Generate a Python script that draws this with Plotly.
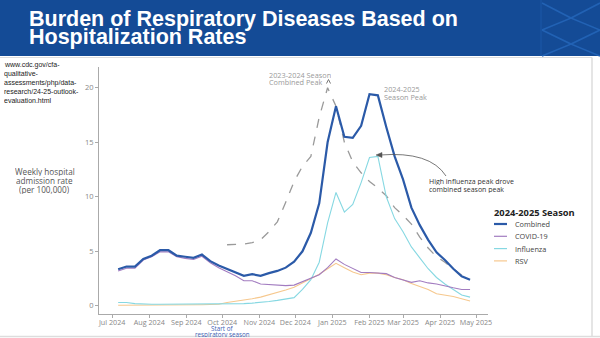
import plotly.graph_objects as go

# ---------------- data ----------------
weeks = ["2024-07-06","2024-07-13","2024-07-20","2024-07-27","2024-08-03","2024-08-10","2024-08-17",
         "2024-08-24","2024-08-31","2024-09-07","2024-09-14","2024-09-21","2024-09-28","2024-10-05",
         "2024-10-12","2024-10-19","2024-10-26","2024-11-02","2024-11-09","2024-11-16","2024-11-23",
         "2024-11-30","2024-12-07","2024-12-14","2024-12-21","2024-12-28","2025-01-04","2025-01-11",
         "2025-01-18","2025-01-25","2025-02-01","2025-02-08","2025-02-15","2025-02-22","2025-03-01",
         "2025-03-08","2025-03-15","2025-03-22","2025-03-29","2025-04-05","2025-04-12","2025-04-19",
         "2025-04-26"]
combined = [3.35, 3.6, 3.6, 4.3, 4.6, 5.1, 5.1, 4.6, 4.5, 4.4, 4.7, 4.1, 3.7, 3.4, 3.05, 2.75, 2.9,
            2.75, 3.0, 3.2, 3.5, 4.05, 5.0, 6.7, 9.4, 15.0, 18.3, 15.5, 15.4, 16.5, 19.4, 19.3, 16.4,
            13.7, 11.6, 9.0, 7.4, 6.05, 4.9, 4.2, 3.4, 2.7, 2.4]
covid = [3.2, 3.45, 3.45, 4.2, 4.5, 4.95, 4.95, 4.5, 4.35, 4.25, 4.55, 3.95, 3.5, 3.15, 2.75, 2.3,
         2.3, 2.0, 1.95, 1.85, 1.85, 1.9, 2.2, 2.5, 2.85, 3.5, 4.3, 3.8, 3.4, 3.05, 3.05, 3.0, 2.95,
         2.6, 2.4, 2.15, 2.3, 2.1, 2.0, 1.8, 1.65, 1.5, 1.5]
influenza = [0.3, 0.3, 0.2, 0.15, 0.15, 0.15, 0.15, 0.15, 0.15, 0.15, 0.15, 0.15, 0.15, 0.15, 0.2,
             0.2, 0.25, 0.3, 0.4, 0.5, 0.6, 0.75, 1.5, 2.4, 4.0, 7.6, 10.4, 8.6, 9.3, 11.3, 13.6,
             13.7, 10.0, 8.0, 6.8, 5.4, 4.4, 3.4, 2.6, 2.0, 1.5, 1.0, 0.8]
rsv = [0.05, 0.05, 0.05, 0.05, 0.05, 0.05, 0.08, 0.08, 0.08, 0.1, 0.1, 0.12, 0.15, 0.3, 0.4, 0.55,
       0.65, 0.8, 1.0, 1.2, 1.45, 1.7, 2.1, 2.5, 2.9, 3.4, 3.9, 3.5, 3.1, 2.85, 3.0, 3.0, 2.85, 2.6,
       2.4, 2.05, 1.8, 1.5, 1.1, 1.0, 0.85, 0.65, 0.45]
prev_combined = [None] * 13 + [5.6, 5.6, 5.65, 5.8, 6.05, 6.8, 7.7, 9.5, 11.4, 12.8, 13.7, 17.3, 20.0,
                               18.3, 15.0, 13.2, 12.2, 11.4, 10.8, 10.1, 9.0, 8.3, 7.5, 6.3, 5.3, 4.5,
                               4.0, 3.4, 2.8, 2.4]
tick_dates = ["2024-07-01","2024-08-01","2024-09-01","2024-10-01","2024-11-01","2024-12-01",
              "2025-01-01","2025-02-01","2025-03-01","2025-04-01","2025-05-01"]
tick_labels = ["Jul 2024","Aug 2024","Sep 2024","Oct 2024","Nov 2024","Dec 2024",
               "Jan 2025","Feb 2025","Mar 2025","Apr 2025","May 2025"]
y_ticks = [0, 5, 10, 15, 20]
series_names = ["Combined", "COVID-19", "Influenza", "RSV"]
series_colors = ["#2b5aa8", "#a27cc0", "#86d8e2", "#f6c88e"]
series_widths = [2.2, 1.1, 1.1, 1.1]

# ---------------- layout helpers ----------------
W, H = 600, 338
L, R, T, B = 99, 488, 67, 314
FONT = "Open Sans"


def px(x):
    return (x - L) / (R - L)


def py(y):
    return (B - y) / (B - T)


fig = go.Figure()

fig.add_trace(go.Scatter(x=weeks, y=prev_combined, mode="lines", name="2023-2024 Combined",
                         line=dict(color="#9a9a9a", width=1.3, dash="dash"), showlegend=False,
                         connectgaps=False))
series_values = [combined, covid, influenza, rsv]
for i in [3, 2, 1, 0]:
    fig.add_trace(go.Scatter(x=weeks, y=series_values[i], mode="lines", name=series_names[i],
                             line=dict(color=series_colors[i], width=series_widths[i]),
                             showlegend=False))

shapes = []
annotations = []


def poly(pts, color, width, closed=False, fill=None):
    d = "M " + " L ".join(f"{px(a)},{py(b)}" for a, b in pts) + (" Z" if closed else "")
    s = dict(type="path", xref="paper", yref="paper", path=d, line=dict(color=color, width=width))
    if fill:
        s["fillcolor"] = fill
    shapes.append(s)


# header bar
shapes.append(dict(type="rect", xref="paper", yref="paper", x0=px(0), x1=px(W), y0=py(56), y1=py(0),
                   fillcolor="#144b96", line=dict(width=0), layer="below"))
for pts in [[(542, 3), (571, 18), (600, 3)], [(542, 30), (571, 18), (600, 30)],
            [(542, 30), (571, 44), (600, 30)], [(542, 56), (571, 44), (600, 56)]]:
    poly(pts, "#2262b4", 1.6)
shapes.append(dict(type="line", xref="paper", yref="paper", x0=px(541), x1=px(541), y0=py(56), y1=py(0),
                   line=dict(color="#1a58a8", width=1)))
# card borders
shapes.append(dict(type="line", xref="paper", yref="paper", x0=px(0), x1=px(592), y0=py(57.5), y1=py(57.5),
                   line=dict(color="#dddddd", width=1)))
shapes.append(dict(type="line", xref="paper", yref="paper", x0=px(592), x1=px(592), y0=py(57.5), y1=py(336.5),
                   line=dict(color="#dddddd", width=1.5)))
shapes.append(dict(type="line", xref="paper", yref="paper", x0=px(0), x1=px(600), y0=py(336.5), y1=py(336.5),
                   line=dict(color="#dddddd", width=1.5)))


def txt(x, y, text, size, color, xanchor="left", family=FONT, h=None):
    a = dict(xref="paper", yref="paper", x=px(x), y=py(y), text=text, showarrow=False,
             xanchor=xanchor, yanchor="middle", align=xanchor,
             font=dict(family=family, size=size, color=color))
    if h is not None:
        a["height"] = h
        a["borderpad"] = 0
    annotations.append(a)


# title
txt(27, 18.5, "<b>Burden of Respiratory Diseases Based on</b>", 21.5, "white", family="Liberation Sans")
txt(27, 37, "<b>Hospitalization Rates</b>", 21.5, "white", family="Liberation Sans")

# source url
for i, line in enumerate(["www.cdc.gov/cfa-", "qualitative-", "assessments/php/data-",
                          "research/24-25-outlook-", "evaluation.html"]):
    txt(3, 65.5 + i * 8.8, line, 7, "#222222", family="Liberation Sans", h=8.8)

# y axis title
for i, line in enumerate(["Weekly hospital", "admission rate", "(per 100,000)"]):
    txt(45, 171 + i * 9, line, 8.2, "#555555", xanchor="center", h=9)

# start of season
txt(222, 328, "Start of", 6.3, "#3f5fb5", xanchor="center", h=6)
txt(222, 334, "respiratory season", 6.3, "#3f5fb5", xanchor="center", h=6)

# peak labels
txt(268, 74.5, "2023-2024 Season", 7.3, "#9a9a9a", h=7)
txt(268, 81.5, "Combined Peak", 7.3, "#9a9a9a", h=7)
txt(383, 89, "2024-2025", 7.3, "#9a9a9a", h=7)
txt(383, 96, "Season Peak", 7.3, "#9a9a9a", h=7)
poly([(326.5, 83.5), (328.5, 79.5), (330.5, 83.5)], "#777777", 1)

# influenza note and curved arrow
txt(428, 181, "High influenza peak drove", 7, "#333333", h=8)
txt(428, 189, "combined season peak", 7, "#333333", h=8)
shapes.append(dict(type="path", xref="paper", yref="paper",
                   path=f"M {px(446)},{py(176)} Q {px(430)},{py(151)} {px(380)},{py(155)}",
                   line=dict(color="#555555", width=0.8)))
poly([(376, 155), (382, 152.5), (382, 157.5)], "#555555", 0.5, closed=True, fill="#555555")

# legend (drawn manually for compact spacing)
txt(492, 212, "<b>2024-2025 Season</b>", 9.3, "#222222")
for i, name in enumerate(series_names):
    yy = 224 + i * 12.3
    shapes.append(dict(type="line", xref="paper", yref="paper", x0=px(494), x1=px(507), y0=py(yy), y1=py(yy),
                       line=dict(color=series_colors[i], width=series_widths[i] if i == 0 else 1.2)))
    txt(513, yy, name, 7.3, "#444444")

fig.update_layout(
    width=W, height=H,
    margin=dict(l=L, r=W - R, t=T, b=H - B, pad=0, autoexpand=False),
    paper_bgcolor="white", plot_bgcolor="white",
    showlegend=False,
    shapes=shapes, annotations=annotations,
    font=dict(family=FONT, color="#888888"),
    xaxis=dict(type="date", range=["2024-06-20", "2025-05-11"], tickvals=tick_dates, ticktext=tick_labels,
               tickangle=0, automargin=False, ticklabelstandoff=-2,
               showgrid=False, zeroline=False, showline=True, linecolor="#aaaaaa", linewidth=1,
               ticks="outside", ticklen=3, tickcolor="#aaaaaa", tickfont=dict(size=7.2, color="#888888")),
    yaxis=dict(range=[-0.75, 21.9], tickvals=y_ticks, showgrid=False, zeroline=False, showline=True,
               automargin=False,
               linecolor="#aaaaaa", linewidth=1, ticks="outside", ticklen=3, tickcolor="#aaaaaa",
               tickfont=dict(size=7.5, color="#888888")),
)

fig.write_html("out.html")
